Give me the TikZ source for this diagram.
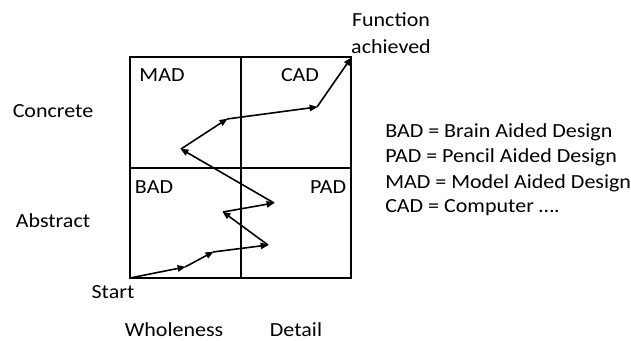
\documentclass[tikz,border=0pt]{standalone}
\usepackage{fontspec}
\setmainfont{Carlito}[FakeStretch=1.1]
\usetikzlibrary{arrows.meta,positioning}
\tikzset{%
lbl/.style={font=\fontsize{15}{17}\selectfont, inner sep=0pt},
legend/.style={lbl, anchor=west},
frame/.style={draw=black, line width=1.7pt},
split/.style={draw=black, line width=0.9pt},
mv/.style={draw=black, line width=1.2pt, -{Triangle[length=6pt,width=4.8pt]}, shorten >=-0.5pt}
}
\begin{document}
\begin{tikzpicture}[x=0.75pt, y=-0.75pt]
		\useasboundingbox (0,0) rectangle (631,341);
		% quadrants
		\coordinate (nw) at (130,57);
		\coordinate (se) at (351,278);
		\draw[split] (241,57) -- (241,278);
		\draw[split] (130,168) -- (351,168);
		\draw[frame] (nw) rectangle (se);
	
		\node[lbl] (mad) at (162,75) {MAD};
		\node[lbl] (cad) at (300,75) {CAD};
		\node[lbl] (bad) at (154,187) {BAD};
		\node[lbl] (pad) at (328,187) {PAD};
	
		\node[lbl] (concrete) at (53,111) {Concrete};
		\node[lbl] (abstract) at (53,221) {Abstract};
		\node[lbl] (start) at (113,292) {Start};
		\node[lbl] (whole) at (174,330) {Wholeness};
		\node[lbl] (detail) at (296,330) {Detail};
		\node[lbl] (goal) at (391,20) {Function};
		\node[lbl] (goal2) at (391,47) {achieved};
	
		% legend
		\node[legend] (lbad) at (385,132) {BAD = Brain Aided Design};
		\node[legend] (lpad) at (385,157) {PAD = Pencil Aided Design};
		\node[legend] (lmad) at (385,183) {MAD = Model Aided Design};
		\node[legend] (lcad) at (385,208) {CAD = Computer ….};
	
		% design path
		\coordinate (p0) at (130,278);
		\coordinate (p1) at (185,267);
		\coordinate (p2) at (213,252);
		\coordinate (p3) at (268,245);
		\coordinate (p4) at (223,212);
		\coordinate (p5) at (274,203);
		\coordinate (p6) at (181,149);
		\coordinate (p7) at (227,119);
		\coordinate (p8) at (317,107);
		\coordinate (p9) at (351,58);
	
		\draw[mv] (p0) -- (p1);
		\draw[mv] (p1) -- (p2);
		\draw[mv] (p2) -- (p3);
		\draw[mv] (p3) -- (p4);
		\draw[mv] (p4) -- (p5);
		\draw[mv] (p5) -- (p6);
		\draw[mv] (p6) -- (p7);
		\draw[mv] (p7) -- (p8);
		\draw[mv] (p8) -- (p9);
	\end{tikzpicture}
\end{document}
